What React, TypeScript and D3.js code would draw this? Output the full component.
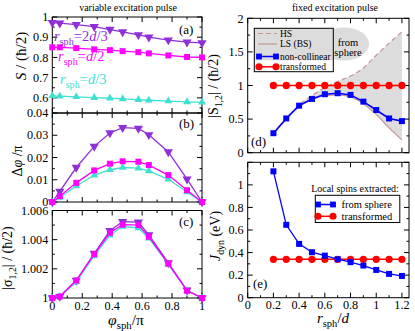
import React, { useEffect, useRef } from "react";
import * as d3 from "d3";

// left column: phi_sph / pi
const phi = [0, 0.05, 0.16, 0.28, 0.385, 0.47, 0.575, 0.645, 0.775, 0.9, 1];
// (a) spin length
const spin2d3 = [0.972, 0.97, 0.962, 0.952, 0.938, 0.926, 0.912, 0.9, 0.886, 0.876, 0.872];
const spinD2 = [0.85, 0.85, 0.846, 0.84, 0.836, 0.831, 0.826, 0.82, 0.81, 0.802, 0.8];
const spinD3 = [0.61, 0.608, 0.605, 0.601, 0.598, 0.595, 0.591, 0.588, 0.584, 0.58, 0.578];
// (b) delta phi / pi
const dphi2d3 = [0, 0.0048, 0.0155, 0.025, 0.031, 0.0334, 0.0331, 0.0302, 0.0225, 0.0103, 0];
const dphiD2 = [0, 0.0026, 0.0086, 0.0142, 0.0172, 0.0183, 0.0181, 0.0166, 0.0121, 0.0053, 0];
const dphiD3 = [0, 0.002, 0.0072, 0.012, 0.0145, 0.0155, 0.0152, 0.014, 0.0102, 0.0045, 0];
// (c) |sigma_12|
const sig2d3 = [1, 1.0001, 1.0012, 1.00305, 1.00462, 1.00524, 1.0052, 1.00432, 1.00241, 1.00053, 1];
const sigD2 = [1, 1.0001, 1.0012, 1.003, 1.00447, 1.00503, 1.005, 1.0042, 1.00236, 1.0005, 1];
const sigD3 = [1, 1.0001, 1.0011, 1.0029, 1.0043, 1.0049, 1.0048, 1.0041, 1.0023, 1.0005, 1];

// right column: r_sph / d
const rSph = [0.2, 0.3, 0.4, 0.5, 0.6, 0.7, 0.8, 0.9, 1.0, 1.1, 1.2];
// (d)
const sHS = [0.29, 0.51, 0.71, 0.85, 0.97, 1.06, 1.14, 1.26, 1.45, 1.63, 1.8];
const sLS = [0.28, 0.5, 0.69, 0.79, 0.85, 0.86, 0.83, 0.73, 0.57, 0.37, 0.19];
const sNonCol = [0.29, 0.51, 0.7, 0.8, 0.87, 0.885, 0.86, 0.76, 0.635, 0.51, 0.47];
const sTrans = [1, 1, 1, 1, 1, 1, 1, 1, 1, 1, 1];
// (e)
const jSphere = [1.12, 0.646, 0.477, 0.403, 0.373, 0.341, 0.315, 0.285, 0.246, 0.211, 0.193];
const jTrans = [0.34, 0.34, 0.34, 0.34, 0.34, 0.34, 0.34, 0.34, 0.34, 0.34, 0.34];

// tick values
const phiMajor = [0, 0.2, 0.4, 0.6, 0.8, 1];
const phiMinor = [0.1, 0.3, 0.5, 0.7, 0.9];
const rMajor = [0, 0.2, 0.4, 0.6, 0.8, 1, 1.2];
const rMinor = [0.1, 0.3, 0.5, 0.7, 0.9, 1.1];
const aMajor = [0.6, 0.7, 0.8, 0.9, 1];
const aMinor = [0.55, 0.65, 0.75, 0.85, 0.95];
const bMajor = [0, 0.01, 0.02, 0.03, 0.04];
const bMinor = [0.005, 0.015, 0.025, 0.035];
const cMajor = [1, 1.002, 1.004, 1.006];
const cMinor = [1.001, 1.003, 1.005];
const dMajor = [0, 0.5, 1, 1.5, 2];
const dMinor = [0.25, 0.75, 1.25, 1.75];
const eMajor = [0, 0.2, 0.4, 0.6, 0.8, 1, 1.2];
const eLabels = [0, 0.2, 0.4, 0.6, 0.8, 1];
const eMinor = [0.1, 0.3, 0.5, 0.7, 0.9, 1.1];

const PURPLE = "#8f2fd8";
const MAGENTA = "#ff00ff";
const CYAN = "#40e0d0";
const BLUE = "#0000ff";
const RED = "#ff0000";
const BROWN = "#c49494";
const GRAY = "#dcdcdc";
const FONT = "'Liberation Serif', 'Times New Roman', serif";

const fmt = d3.format("~g");

const App = () => {
  const svgRef = useRef(null);

  useEffect(() => {
    const svg = d3.select(svgRef.current);
    svg.selectAll("*").remove();
    svg.style("font-family", FONT);

    const frame = (x, y, o) => {
      const [x0, x1] = x.range();
      const [y0, y1] = y.range(); // y0 bottom, y1 top
      const g = svg.append("g").attr("stroke", "black").attr("stroke-width", 1);
      g.append("rect")
        .attr("x", x0).attr("y", y1)
        .attr("width", x1 - x0).attr("height", y0 - y1)
        .attr("fill", "none");
      const xt = (vals, len) =>
        vals.forEach((v) => {
          const px = x(v);
          g.append("line").attr("x1", px).attr("x2", px).attr("y1", y0).attr("y2", y0 - len);
          g.append("line").attr("x1", px).attr("x2", px).attr("y1", y1).attr("y2", y1 + len);
        });
      const yt = (vals, len) =>
        vals.forEach((v) => {
          const py = y(v);
          g.append("line").attr("y1", py).attr("y2", py).attr("x1", x0).attr("x2", x0 + len);
          g.append("line").attr("y1", py).attr("y2", py).attr("x1", x1).attr("x2", x1 - len);
        });
      xt(o.xMajor, 5);
      xt(o.xMinor, 2.5);
      yt(o.yMajor, 5);
      yt(o.yMinor, 2.5);
      o.yLabels.forEach((v) => {
        svg.append("text")
          .attr("x", x0 - 4).attr("y", y(v) + 4.2)
          .attr("text-anchor", "end").attr("font-size", 12.2)
          .text(fmt(v));
      });
      if (o.xLabels) {
        o.xLabels.forEach((v) => {
          svg.append("text")
            .attr("x", x(v)).attr("y", y0 + o.xLabelDy)
            .attr("text-anchor", "middle").attr("font-size", 12.2)
            .text(fmt(v));
        });
      }
    };

    const series = (x, y, xs, ys, color, marker, width = 1.3, size = 6) => {
      const pts = xs.map((v, i) => [x(v), y(ys[i])]);
      svg.append("path")
        .attr("d", d3.line()(pts))
        .attr("fill", "none").attr("stroke", color).attr("stroke-width", width);
      const sym = {
        square: d3.symbolSquare,
        circle: d3.symbolCircle,
        triangle: d3.symbolTriangle,
        triangleDown: d3.symbolTriangle,
      }[marker];
      const area = marker === "circle" ? size * size * 0.85 : size * size;
      pts.forEach(([px, py]) => {
        svg.append("path")
          .attr("d", d3.symbol().type(sym).size(marker.startsWith("tri") ? area * 0.75 : area)())
          .attr("transform", `translate(${px},${py})${marker === "triangleDown" ? " rotate(180)" : ""}`)
          .attr("fill", color);
      });
    };

    const subLabel = (sel, parts, size) => {
      parts.forEach((p) => {
        const t = sel.append("tspan").text(p.t);
        if (p.i) t.attr("font-style", "italic");
        if (p.sub) t.attr("font-size", size * 0.7).attr("dy", size * 0.28);
        if (p.up) t.attr("dy", -size * 0.28);
      });
    };

    // ---------- left column ----------
    const xL = d3.scaleLinear().domain([0, 1]).range([52.3, 202]);
    const yA = d3.scaleLinear().domain([0.525, 1]).range([113, 17]);
    const yB = d3.scaleLinear().domain([0, 0.04]).range([202, 113]);
    const yC = d3.scaleLinear().domain([1, 1.006]).range([298, 210.5]);

    frame(xL, yA, { xMajor: phiMajor, xMinor: phiMinor, yMajor: aMajor, yMinor: aMinor, yLabels: aMajor });
    series(xL, yA, phi, spinD3, CYAN, "triangle");
    series(xL, yA, phi, spinD2, MAGENTA, "square");
    series(xL, yA, phi, spin2d3, PURPLE, "triangleDown", 1.3, 7);

    frame(xL, yB, { xMajor: phiMajor, xMinor: phiMinor, yMajor: bMajor, yMinor: bMinor, yLabels: bMajor });
    series(xL, yB, phi, dphi2d3, PURPLE, "triangleDown", 1.3, 7);
    series(xL, yB, phi, dphiD3, CYAN, "triangle");
    series(xL, yB, phi, dphiD2, MAGENTA, "square");

    frame(xL, yC, {
      xMajor: phiMajor, xMinor: phiMinor, yMajor: cMajor, yMinor: cMinor, yLabels: cMajor,
      xLabels: phiMajor, xLabelDy: 11.5,
    });
    series(xL, yC, phi, sig2d3, PURPLE, "triangleDown", 1.3, 7);
    series(xL, yC, phi, sigD3, CYAN, "triangle");
    series(xL, yC, phi, sigD2, MAGENTA, "square");

    // panel letters and annotations
    const letter = (x, y, s) =>
      svg.append("text").attr("x", x).attr("y", y).attr("font-size", 13).text(s);
    letter(179, 34, "(a)");
    letter(179, 128, "(b)");
    letter(179, 226, "(c)");

    const rLabel = (x, y, color, pre, post) => {
      const t = svg.append("text").attr("x", x).attr("y", y).attr("font-size", 14.5).attr("fill", color);
      subLabel(t, [{ t: "r", i: true }, { t: "sph", sub: true }, { t: pre, up: true }, { t: "d", i: true }, { t: post }], 14.5);
    };
    rLabel(54, 41, PURPLE, "=2", "/3");
    rLabel(58, 61, MAGENTA, "=", "/2");
    rLabel(60, 84, CYAN, "=", "/3");

    // left axis titles
    const yTitle = (x, y, parts, size) => {
      const t = svg.append("text")
        .attr("transform", `translate(${x},${y}) rotate(-90)`)
        .attr("text-anchor", "middle").attr("font-size", size);
      subLabel(t, parts, size);
    };
    yTitle(26, 56, [{ t: "S", i: true }, { t: " / (ħ/2)" }], 15);
    yTitle(22, 161, [{ t: "Δ" }, { t: "φ", i: true }, { t: " /π" }], 14);
    yTitle(12, 258, [{ t: "|σ" }, { t: "1,2", sub: true }, { t: "| / (ħ/2)", up: true }], 14);

    const xt1 = svg.append("text").attr("x", 126).attr("y", 324.5).attr("text-anchor", "middle").attr("font-size", 15.5);
    subLabel(xt1, [{ t: "φ", i: true }, { t: "sph", sub: true }, { t: "/π", up: true }], 15.5);

    svg.append("text").attr("x", 128).attr("y", 11).attr("text-anchor", "middle")
      .attr("font-size", 10).text("variable excitation pulse");

    // ---------- right column ----------
    const xR = d3.scaleLinear().domain([0, 1.255]).range([247.7, 409]);
    const yD = d3.scaleLinear().domain([0, 2]).range([152.7, 18.3]);
    const yE = d3.scaleLinear().domain([0, 1.2]).range([297.7, 162.3]);

    frame(xR, yD, { xMajor: rMajor, xMinor: rMinor, yMajor: dMajor, yMinor: dMinor, yLabels: dMajor });

    // from-sphere blob and legend background
    svg.append("rect").attr("x", 254.3).attr("y", 28.3).attr("width", 79).attr("height", 32).attr("fill", GRAY);
    svg.append("ellipse").attr("cx", 344).attr("cy", 44).attr("rx", 25).attr("ry", 16.5).attr("fill", GRAY);

    svg.append("path")
      .attr("d", d3.area()
        .x((_, i) => xR(rSph[i]))
        .y0((_, i) => yD(sLS[i]))
        .y1((_, i) => yD(sHS[i]))
        .curve(d3.curveMonotoneX)(rSph))
      .attr("fill", GRAY);
    const lineD = (vals) =>
      d3.line().x((_, i) => xR(rSph[i])).y((_, i) => yD(vals[i])).curve(d3.curveMonotoneX)(rSph);
    svg.append("path").attr("d", lineD(sHS)).attr("fill", "none").attr("stroke", BROWN)
      .attr("stroke-width", 1.2).attr("stroke-dasharray", "5,3");
    svg.append("path").attr("d", lineD(sLS)).attr("fill", "none").attr("stroke", BROWN).attr("stroke-width", 1.2);
    series(xR, yD, rSph, sTrans, RED, "circle", 1.5, 7);
    series(xR, yD, rSph, sNonCol, BLUE, "square", 1.6, 6);

    // legend (d)
    svg.append("rect").attr("x", 254.3).attr("y", 28.3).attr("width", 79).attr("height", 43.4)
      .attr("fill", "none").attr("stroke", "black").attr("stroke-width", 1);
    const legRow = (y, label, draw) => {
      draw(y);
      svg.append("text").attr("x", 280).attr("y", y + 3.3).attr("font-size", 9.5).text(label);
    };
    legRow(33.5, "HS", (y) =>
      svg.append("line").attr("x1", 258).attr("x2", 277).attr("y1", y).attr("y2", y)
        .attr("stroke", BROWN).attr("stroke-width", 1.2).attr("stroke-dasharray", "5,3"));
    legRow(44, "LS (BS)", (y) =>
      svg.append("line").attr("x1", 258).attr("x2", 277).attr("y1", y).attr("y2", y)
        .attr("stroke", BROWN).attr("stroke-width", 1.2));
    const legSeries = (x1, x2, y, color, marker) => {
      svg.append("line").attr("x1", x1).attr("x2", x2).attr("y1", y).attr("y2", y)
        .attr("stroke", color).attr("stroke-width", 1.5);
      [x1, x2].forEach((px) => {
        const sym = marker === "circle" ? d3.symbolCircle : d3.symbolSquare;
        svg.append("path").attr("d", d3.symbol().type(sym).size(marker === "circle" ? 40 : 34)())
          .attr("transform", `translate(${px},${y})`).attr("fill", color);
      });
    };
    legRow(56.5, "non-collinear", (y) => legSeries(259, 276, y, BLUE, "square"));
    legRow(66.8, "transformed", (y) => legSeries(259, 276, y, RED, "circle"));
    svg.append("text").attr("x", 348).attr("y", 46).attr("text-anchor", "middle").attr("font-size", 10.5).text("from");
    svg.append("text").attr("x", 348).attr("y", 56).attr("text-anchor", "middle").attr("font-size", 10.5).text("sphere");
    letter(251, 146, "(d)");

    yTitle(218, 86, [{ t: "|S" }, { t: "1,2", sub: true }, { t: "| / (ħ/2)", up: true }], 14);

    // (e)
    frame(xR, yE, {
      xMajor: rMajor, xMinor: rMinor, yMajor: eMajor, yMinor: eMinor, yLabels: eLabels,
      xLabels: rMajor, xLabelDy: 11.5,
    });
    series(xR, yE, rSph, jTrans, RED, "circle", 1.5, 7);
    series(xR, yE, rSph, jSphere, BLUE, "square", 1.3, 6);

    svg.append("text").attr("x", 355).attr("y", 192).attr("text-anchor", "middle")
      .attr("font-size", 10).text("Local spins extracted:");
    svg.append("rect").attr("x", 315.3).attr("y", 195.3).attr("width", 84.5).attr("height", 27.2)
      .attr("fill", "white").attr("stroke", "black").attr("stroke-width", 1);
    legSeries(318, 333, 204.5, BLUE, "square");
    svg.append("text").attr("x", 341.5).attr("y", 208.2).attr("font-size", 10.5).text("from sphere");
    legSeries(318, 333, 216.3, RED, "circle");
    svg.append("text").attr("x", 341.5).attr("y", 220).attr("font-size", 10.5).text("transformed");
    letter(253, 288, "(e)");

    yTitle(220, 236, [{ t: "J", i: true }, { t: "dyn", sub: true }, { t: "  (eV)", up: true }], 14);

    const xt2 = svg.append("text").attr("x", 333).attr("y", 323).attr("text-anchor", "middle").attr("font-size", 15);
    subLabel(xt2, [{ t: "r", i: true }, { t: "sph", sub: true }, { t: "/", up: true }, { t: "d", i: true }], 15);

    svg.append("text").attr("x", 335).attr("y", 11).attr("text-anchor", "middle")
      .attr("font-size", 10).text("fixed excitation pulse");
  }, []);

  return (
    <svg
      ref={svgRef}
      width={415}
      height={331}
      style={{ position: "absolute", left: 0, top: 0, background: "white" }}
    />
  );
};

export default App;
